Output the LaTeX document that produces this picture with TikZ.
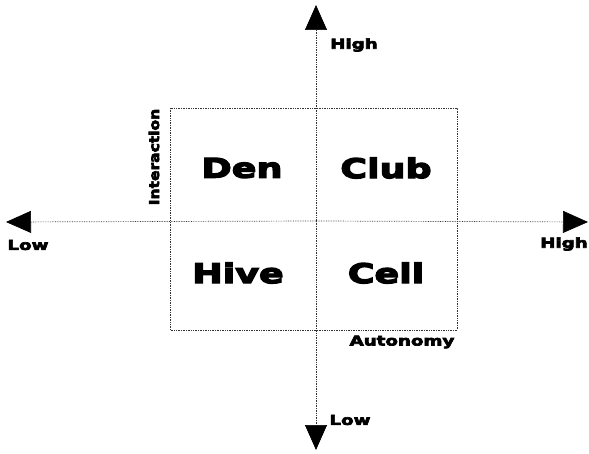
\documentclass[tikz,border=0pt]{standalone}
\usepackage{fontspec}
\newfontfamily\heavy{DejaVu Sans Bold}[FakeStretch=1.35, FakeBold=5]
\usetikzlibrary{arrows.meta}
\begin{document}
\begin{tikzpicture}[x=1pt,y=-1pt,
  axis/.style={densely dotted, line width=0.7pt, black!80,
    -{Triangle[width=22pt,length=25pt,black]}},
  boxline/.style={densely dotted, line width=0.7pt, black!80},
  big/.style={font=\heavy\fontsize{27}{29}\selectfont},
  small/.style={font=\heavy\fontsize{13.5}{15}\selectfont},
  inner sep=0pt]
\useasboundingbox (0,0) rectangle (589,454);
\coordinate (c) at (316,221);
\coordinate (top) at (316,5);
\coordinate (bot) at (316,450);
\coordinate (lft) at (6,222);
\coordinate (rgt) at (588,222);
\draw[boxline] (170,108) rectangle (457,330);
\draw[axis] (c) -- (top);
\draw[axis] (c) -- (bot);
\draw[axis] (c) -- (lft);
\draw[axis] (c) -- (rgt);
\node[big] (den) at (242,168) {Den};
\node[big] (club) at (386,168) {Club};
\node[big] (hive) at (238,273) {Hive};
\node[big] (cell) at (386,273) {Cell};
\node[small] (hightop) at (354,45) {High};
\node[small] (lowbot) at (350,420) {Low};
\node[small] (lowl) at (28,245) {Low};
\node[small] (highr) at (564,244) {High};
\node[small] (auto) at (402,342) {Autonomy};
\node[small, rotate=90, xscale=0.85] (inter) at (154,157) {Interaction};
\end{tikzpicture}
\end{document}
